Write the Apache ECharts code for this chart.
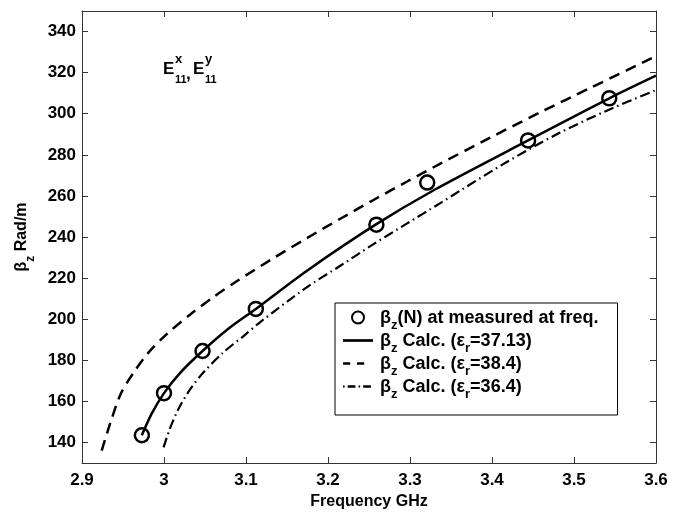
<!DOCTYPE html>
<html>
<head>
<meta charset="utf-8">
<script src="https://cdn.jsdelivr.net/npm/echarts@6/dist/echarts.min.js"></script>
<style>
  html, body { margin: 0; padding: 0; background: #fff; }
  #chart { width: 682px; height: 517px; }
</style>
</head>
<body>
<div id="chart"></div>
<script>
// Measured propagation constant (circles)
const freqMeasured = [2.973, 3.0, 3.047, 3.112, 3.259, 3.321, 3.444, 3.543];
const betaMeasured = [143.5, 164.0, 184.5, 205.0, 246.0, 266.5, 287.0, 307.5];

// Calculated curve, er = 37.13 (solid)
const freq3713 = [2.973, 2.985, 3.0, 3.02, 3.047, 3.08, 3.112, 3.174, 3.258, 3.33, 3.444, 3.543, 3.6];
const beta3713 = [143.5, 154.0, 164.0, 174.0, 184.5, 195.8, 205.0, 223.5, 246.0, 263.0, 287.0, 307.5, 318.5];

// Calculated curve, er = 38.4 (dashed)
const freq384 = [2.924, 2.936, 2.948, 2.963, 2.981, 3.003, 3.032, 3.060, 3.090, 3.133, 3.174, 3.215, 3.255, 3.296, 3.337, 3.398, 3.459, 3.52, 3.6];
const beta384 = [136.0, 151.3, 164.3, 174.0, 183.7, 192.6, 202.3, 210.7, 218.8, 229.6, 239.4, 248.9, 257.9, 266.9, 275.7, 288.4, 300.7, 312.6, 328.0];

// Calculated curve, er = 36.4 (dash-dot)
const freq364 = [2.9995, 3.007, 3.0175, 3.032, 3.048, 3.072, 3.097, 3.117, 3.174, 3.215, 3.255, 3.296, 3.337, 3.361, 3.418, 3.479, 3.54, 3.6];
const beta364 = [137.6, 146.5, 156.2, 165.9, 174.0, 183.7, 191.8, 198.5, 215.5, 226.0, 236.4, 246.5, 256.5, 262.5, 276.5, 290.0, 301.5, 311.5];

// Axis ticks
const xTicks = [2.9, 3.0, 3.1, 3.2, 3.3, 3.4, 3.5, 3.6];
const yTicks = [140, 160, 180, 200, 220, 240, 260, 280, 300, 320, 340];

const legendNames = {
  meas: 'βz(N) at measured at freq.',
  c3713: 'βz Calc. (εr=37.13)',
  c384: 'βz Calc. (εr=38.4)',
  c364: 'βz Calc. (εr=36.4)'
};
const legendRich = {
  [legendNames.meas]: '{t|β}{s|z}{t|(N) at measured at freq.}',
  [legendNames.c3713]: '{t|β}{s|z}{t| Calc. (ε}{s|r}{t|=37.13)}',
  [legendNames.c384]: '{t|β}{s|z}{t| Calc. (ε}{s|r}{t|=38.4)}',
  [legendNames.c364]: '{t|β}{s|z}{t| Calc. (ε}{s|r}{t|=36.4)}'
};

// Legend line samples (a hairline end-cap keeps every icon 29 units wide)
const END_CAP = 'M29,1.3H29.01V1.31H29Z';
const iconSolid = 'path://M0,0H29V2.6H0Z';
const iconDashed = 'path://M0,0H7V2.6H0Z M13.5,0H20.5V2.6H13.5Z ' + END_CAP;
const iconDashDot = 'path://M0,0.3H1.6V2.3H0Z M4.5,0H12V2.6H4.5Z M15,0.3H16.6V2.3H15Z M19.5,0H27V2.6H19.5Z ' + END_CAP;

const FONT = '"Liberation Sans", Arial, Helvetica, sans-serif';
const pair = (xs, ys) => xs.map((x, i) => [x, ys[i]]);

const chart = echarts.init(document.getElementById('chart'), null, { renderer: 'canvas' });

const axisLineStyle = { color: '#333', width: 1 };

chart.setOption({
  animation: false,
  backgroundColor: '#fff',
  grid: { left: 82, right: 26, top: 11, bottom: 54, containLabel: false },
  xAxis: [{
    type: 'value', min: 2.9, max: 3.6, interval: 0.1,
    name: 'Frequency GHz', nameLocation: 'middle', nameGap: 30,
    nameTextStyle: { fontFamily: FONT, fontWeight: 'bold', fontSize: 16, color: '#000' },
    axisLine: { show: true, lineStyle: axisLineStyle },
    axisTick: { show: true, inside: true, length: 6, lineStyle: axisLineStyle },
    axisLabel: {
      margin: 9, fontFamily: FONT, fontWeight: 'bold', fontSize: 17, color: '#000',
      customValues: xTicks,
      formatter: v => (Math.round(v * 10) / 10).toString()
    },
    splitLine: { show: false }
  }, {
    type: 'value', min: 2.9, max: 3.6, interval: 0.1, position: 'top',
    axisLine: { show: true, lineStyle: axisLineStyle },
    axisTick: { show: true, inside: true, length: 6, lineStyle: axisLineStyle },
    axisLabel: { show: false },
    splitLine: { show: false }
  }],
  yAxis: [{
    type: 'value', min: 130, max: 350,
    name: '{t|β}{s|z}{t| Rad/m}', nameLocation: 'middle', nameGap: 50, nameRotate: 90,
    nameTextStyle: {
      color: '#000',
      rich: {
        t: { fontFamily: FONT, fontWeight: 'bold', fontSize: 16, lineHeight: 18, verticalAlign: 'top' },
        s: { fontFamily: FONT, fontWeight: 'bold', fontSize: 12, lineHeight: 12, padding: [11, 0, 0, 0], verticalAlign: 'top' }
      }
    },
    axisLine: { show: true, lineStyle: axisLineStyle },
    axisTick: { show: true, inside: true, length: 6, lineStyle: axisLineStyle, customValues: yTicks },
    axisLabel: {
      margin: 6, fontFamily: FONT, fontWeight: 'bold', fontSize: 17, color: '#000',
      customValues: yTicks
    },
    splitLine: { show: false }
  }, {
    type: 'value', min: 130, max: 350, position: 'right',
    axisLine: { show: true, lineStyle: axisLineStyle },
    axisTick: { show: true, inside: true, length: 6, lineStyle: axisLineStyle, customValues: yTicks },
    axisLabel: { show: false },
    splitLine: { show: false }
  }],
  legend: {
    orient: 'vertical',
    left: 335, top: 303,
    backgroundColor: '#fff',
    borderColor: '#000', borderWidth: 1, borderRadius: 0,
    padding: [6, 19, 14, 8],
    itemGap: 0,
    itemWidth: 30, itemHeight: 12,
    selectedMode: false,
    data: [
      { name: legendNames.meas },
      { name: legendNames.c3713, icon: iconSolid },
      { name: legendNames.c384, icon: iconDashed },
      { name: legendNames.c364, icon: iconDashDot }
    ],
    formatter: name => legendRich[name],
    textStyle: {
      color: '#000',
      padding: [0, 0, 0, 2],
      rich: {
        t: { fontFamily: FONT, fontWeight: 'bold', fontSize: 18, lineHeight: 17, verticalAlign: 'top' },
        s: { fontFamily: FONT, fontWeight: 'bold', fontSize: 13, lineHeight: 12, padding: [10, 0, 0, 0], verticalAlign: 'top' }
      }
    }
  },
  graphic: [
    { type: 'text', left: 163, top: 61, style: { text: 'E', font: 'bold 17px ' + FONT, fill: '#000' } },
    { type: 'text', left: 175, top: 53, style: { text: 'x', font: 'bold 13px ' + FONT, fill: '#000' } },
    { type: 'text', left: 175, top: 74, style: { text: '11', font: 'bold 11px ' + FONT, fill: '#000' } },
    { type: 'text', left: 186, top: 66, style: { text: ',', font: 'bold 17px ' + FONT, fill: '#000' } },
    { type: 'text', left: 193, top: 61, style: { text: 'E', font: 'bold 17px ' + FONT, fill: '#000' } },
    { type: 'text', left: 205, top: 53, style: { text: 'y', font: 'bold 13px ' + FONT, fill: '#000' } },
    { type: 'text', left: 205, top: 74, style: { text: '11', font: 'bold 11px ' + FONT, fill: '#000' } }
  ],
  series: [
    {
      name: legendNames.c3713, type: 'line', xAxisIndex: 0, yAxisIndex: 0,
      data: pair(freq3713, beta3713), smooth: 0.3,
      showSymbol: false,
      lineStyle: { color: '#000', width: 2.5, type: 'solid' },
      itemStyle: { color: '#000' }
    },
    {
      name: legendNames.c384, type: 'line', xAxisIndex: 0, yAxisIndex: 0,
      data: pair(freq384, beta384), smooth: 0.3,
      showSymbol: false,
      lineStyle: { color: '#000', width: 2.5, type: [11, 7] },
      itemStyle: { color: '#000' }
    },
    {
      name: legendNames.c364, type: 'line', xAxisIndex: 0, yAxisIndex: 0,
      data: pair(freq364, beta364), smooth: 0.3,
      showSymbol: false,
      lineStyle: { color: '#000', width: 2.2, type: [10, 4, 1.5, 4] },
      itemStyle: { color: '#000' }
    },
    {
      name: legendNames.meas, type: 'scatter', xAxisIndex: 0, yAxisIndex: 0,
      data: pair(freqMeasured, betaMeasured),
      symbol: 'circle', symbolSize: 14,
      itemStyle: { color: 'rgba(0,0,0,0)', borderColor: '#000', borderWidth: 2.5, opacity: 1 },
      z: 5
    }
  ]
});
</script>
</body>
</html>
